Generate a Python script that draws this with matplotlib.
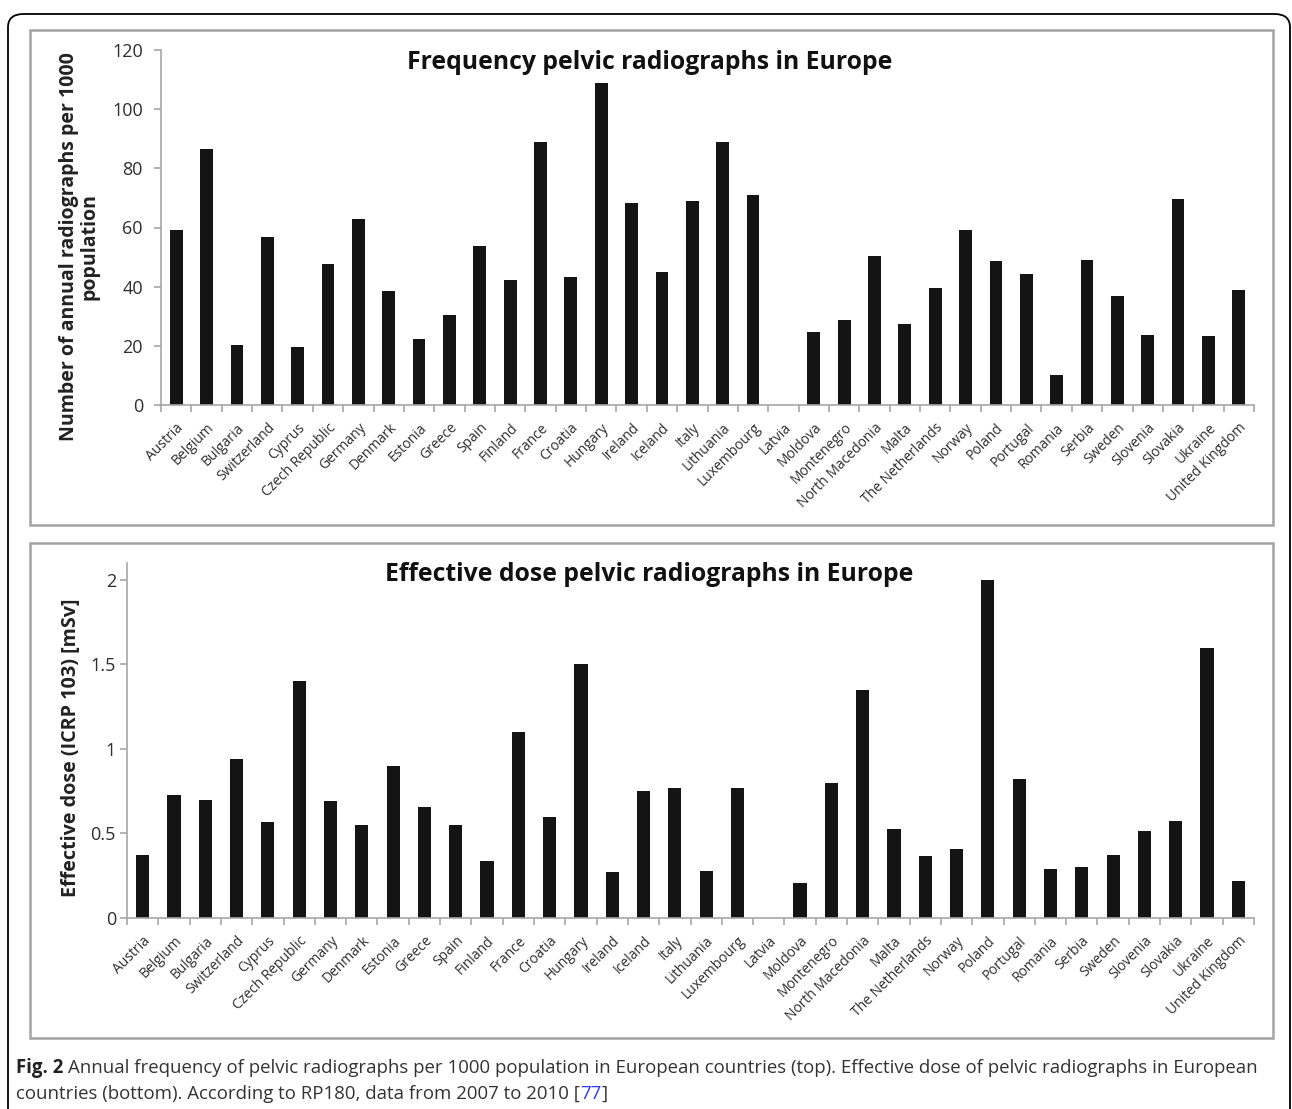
import numpy as np
import matplotlib
matplotlib.use("Agg")
from matplotlib import pyplot as plt
from matplotlib.patches import Rectangle, FancyBboxPatch
from matplotlib.transforms import ScaledTranslation

countries = ["Austria", "Belgium", "Bulgaria", "Switzerland", "Cyprus", "Czech Republic",
             "Germany", "Denmark", "Estonia", "Greece", "Spain", "Finland", "France",
             "Croatia", "Hungary", "Ireland", "Iceland", "Italy", "Lithuania", "Luxembourg",
             "Latvia", "Moldova", "Montenegro", "North Macedonia", "Malta", "The Netherlands",
             "Norway", "Poland", "Portugal", "Romania", "Serbia", "Sweden", "Slovenia",
             "Slovakia", "Ukraine", "United Kingdom"]

freq = [59, 86.7, 20.3, 56.7, 19.6, 47.8, 62.8, 38.5, 22.2, 30.5, 53.7, 42.3, 88.8,
        43.1, 108.8, 68.3, 44.9, 68.8, 88.8, 71.0, 0, 24.6, 28.8, 50.2, 27.5, 39.4,
        59.0, 48.6, 44.4, 10.2, 48.9, 36.8, 23.8, 69.7, 23.3, 38.8]

dose = [0.375, 0.725, 0.70, 0.94, 0.566, 1.40, 0.69, 0.55, 0.90, 0.656, 0.55, 0.34, 1.10,
        0.595, 1.50, 0.27, 0.75, 0.77, 0.277, 0.77, 0, 0.21, 0.80, 1.35, 0.525, 0.365,
        0.41, 2.0, 0.82, 0.29, 0.30, 0.375, 0.515, 0.576, 1.60, 0.22]

freq_ticks = [0, 20, 40, 60, 80, 100, 120]
dose_ticks = [0, 0.5, 1, 1.5, 2]
dose_ticklabels = ["0", "0.5", "1", "1.5", "2"]

plt.rcParams['font.family'] = ['Open Sans', 'DejaVu Sans']

W, H = 1292, 1109
fig = plt.figure(figsize=(W / 100, H / 100), dpi=100)


def box(x0, y0, x1, y1):
    # pixel box -> figure fraction [left, bottom, width, height]
    return [x0 / W, 1 - y1 / H, (x1 - x0) / W, (y1 - y0) / H]


# outer rounded frame
fig.patches.append(FancyBboxPatch((8 / W, -20 / H), 1282 / W, (H - 14 + 20) / H,
                                  boxstyle="round,pad=0,rounding_size=0.012",
                                  transform=fig.transFigure, fill=False,
                                  edgecolor="black", linewidth=1.3))
# panel frames
for y0, y1 in [(30, 525), (543, 1038)]:
    fig.patches.append(Rectangle((30 / W, 1 - y1 / H), 1243 / W, (y1 - y0) / H,
                                 transform=fig.transFigure, fill=False,
                                 edgecolor="#a3a3a3", linewidth=1.8))

grey = "#a6a6a6"
tickcol = "#2e2e2e"
x = np.arange(len(countries))


def style(ax, ypad):
    for s in ["top", "right"]:
        ax.spines[s].set_visible(False)
    for s in ["left", "bottom"]:
        ax.spines[s].set_color(grey)
        ax.spines[s].set_linewidth(1.2)
    ax.set_xlim(-0.5, len(countries) - 0.5)
    ax.set_xticks(x)
    ax.set_xticklabels(countries, rotation=45, ha="right", rotation_mode="anchor",
                       fontsize=10, color=tickcol)
    shift = ScaledTranslation(4 / 72, 0, fig.dpi_scale_trans)
    for lab in ax.get_xticklabels():
        lab.set_transform(lab.get_transform() + shift)
    ax.set_xticks(np.arange(len(countries) + 1) - 0.5, minor=True)
    ax.tick_params(axis="x", which="major", length=0, pad=11)
    ax.tick_params(axis="x", which="minor", length=5, color=grey, width=1.2)
    ax.tick_params(axis="y", length=5, color=grey, width=1.2, labelsize=13,
                   labelcolor=tickcol, pad=ypad)


ax1 = fig.add_axes(box(161, 50, 1254, 405))
ax1.bar(x, freq, width=0.42, color="#141414")
ax1.set_ylim(0, 120)
ax1.set_yticks(freq_ticks)
style(ax1, 8)
ax1.set_ylabel("Number of annual radiographs per 1000\npopulation", fontsize=14,
               fontweight="bold", color="#222222", linespacing=1.05)
ax1.yaxis.set_label_coords(-0.056, 0.445)
ax1.text(0.447, 0.966, "Frequency pelvic radiographs in Europe", transform=ax1.transAxes,
         ha="center", va="center", fontsize=17.8, fontweight="bold", color="#111111")

ax2 = fig.add_axes(box(127, 563, 1254, 918))
ax2.bar(x, dose, width=0.42, color="#141414")
ax2.set_ylim(0, 2.1)
ax2.set_yticks(dose_ticks)
ax2.set_yticklabels(dose_ticklabels)
style(ax2, 3)
ax2.set_ylabel("Effective dose (ICRP 103) [mSv]", fontsize=14.2, fontweight="bold",
               color="#222222")
ax2.yaxis.set_label_coords(-0.041, 0.48)
ax2.text(0.463, 0.969, "Effective dose pelvic radiographs in Europe", transform=ax2.transAxes,
         ha="center", va="center", fontsize=17.8, fontweight="bold", color="#111111")

# caption
fig.canvas.draw()
r = fig.canvas.get_renderer()
cs = 13.4
y1 = 1 - 1068 / H
y2 = 1 - 1094 / H
f = fig.text(16 / W, y1, "Fig. 2", fontsize=cs, fontweight="bold", va="center",
             color="#222222")
x1 = f.get_window_extent(r).x1
fig.text((x1 + 5) / W, y1,
         "Annual frequency of pelvic radiographs per 1000 population in European countries (top). "
         "Effective dose of pelvic radiographs in European",
         fontsize=cs, va="center", color="#333333")
t = fig.text(16 / W, y2, "countries (bottom). According to RP180, data from 2007 to 2010 [",
             fontsize=cs, va="center", color="#333333")
x2 = t.get_window_extent(r).x1
t2 = fig.text(x2 / W, y2, "77", fontsize=cs, va="center", color="#2a3cf0")
x3 = t2.get_window_extent(r).x1
fig.text(x3 / W, y2, "]", fontsize=cs, va="center", color="#333333")

fig.savefig("out.png", dpi=100)
